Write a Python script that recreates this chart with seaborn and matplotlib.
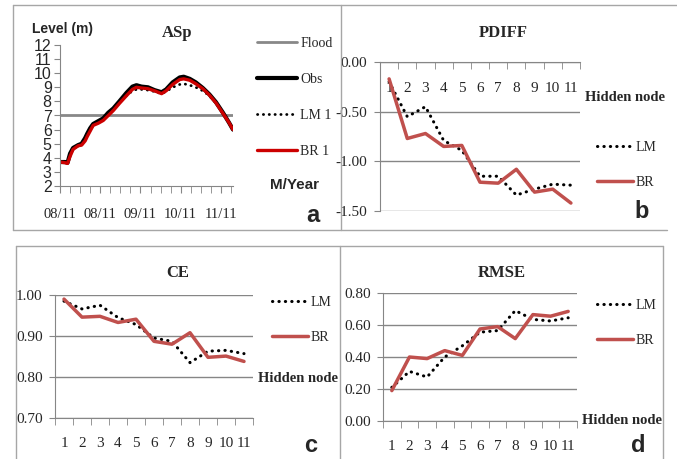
import pandas as pd
import seaborn as sns
import matplotlib.pyplot as plt
from matplotlib.lines import Line2D
from matplotlib.ticker import FixedLocator, FormatStrFormatter

# panel a: observed and simulated water level at ASp
week = [0, 0.5, 0.75, 1.0, 1.3, 1.8, 2.15, 2.5, 2.7, 3.0, 3.3, 3.8, 4.3, 4.8,
        5.3, 5.9, 6.6, 7.2, 7.6, 8.1, 8.75, 9.4, 10.1, 10.55, 11.2, 11.9,
        12.3, 12.9, 13.5, 14.2, 14.85, 15.5, 16.2, 16.8, 17.2]
obs = [3.7, 3.7, 3.65, 4.3, 4.7, 4.9, 5.0, 5.4, 5.7, 6.1, 6.4, 6.6, 6.8, 7.2,
       7.5, 8.0, 8.6, 9.05, 9.15, 9.05, 9.0, 8.8, 8.65, 8.85, 9.35, 9.7,
       9.75, 9.6, 9.35, 8.95, 8.5, 7.95, 7.2, 6.5, 6.0]
lm1 = [3.7, 3.7, 3.65, 4.3, 4.65, 4.9, 5.0, 5.35, 5.6, 6.0, 6.35, 6.55, 6.75,
       7.1, 7.4, 7.9, 8.4, 8.75, 8.85, 8.85, 8.8, 8.7, 8.55, 8.7, 9.0, 9.2,
       9.25, 9.15, 9.0, 8.75, 8.4, 7.9, 7.15, 6.5, 6.0]
br1 = [3.7, 3.65, 3.6, 4.1, 4.6, 4.85, 4.9, 5.2, 5.5, 5.9, 6.3, 6.45, 6.65,
       7.0, 7.35, 7.85, 8.4, 8.85, 9.0, 8.95, 8.9, 8.75, 8.55, 8.75, 9.2,
       9.55, 9.6, 9.5, 9.25, 8.9, 8.45, 7.9, 7.15, 6.5, 6.0]
flood_level = 7.0
month_labels = ["08/11", "08/11", "09/11", "10/11", "11/11"]

# panels b-d: performance against number of hidden nodes
nodes = list(range(1, 12))
pdiff_lm = [-0.2, -0.55, -0.45, -0.79, -0.89, -1.15, -1.15, -1.34, -1.28, -1.23, -1.24]
pdiff_br = [-0.17, -0.77, -0.72, -0.85, -0.84, -1.21, -1.22, -1.08, -1.31, -1.28, -1.42]
ce_lm = [0.985, 0.966, 0.975, 0.945, 0.928, 0.895, 0.887, 0.835, 0.863, 0.865, 0.857]
ce_br = [0.99, 0.946, 0.948, 0.933, 0.941, 0.887, 0.880, 0.908, 0.848, 0.851, 0.838]
rmse_lm = [0.21, 0.31, 0.275, 0.40, 0.47, 0.555, 0.565, 0.69, 0.635, 0.625, 0.645]
rmse_br = [0.19, 0.40, 0.39, 0.44, 0.41, 0.575, 0.59, 0.515, 0.665, 0.655, 0.685]

W, H = 677, 459
SERIF = ["Liberation Serif", "DejaVu Serif"]
SANS = ["Liberation Sans Narrow", "Liberation Sans", "DejaVu Sans"]
RED = "#c0504d"
GRID = "#868686"
FRAME = "#a6a6a6"
DOTS = (0, (0.1, 2.0))

sns.set_style("white")
plt.rcParams["axes.unicode_minus"] = False

fig = plt.figure(figsize=(W / 100, H / 100), dpi=100)


def fx(px):
    return px / W


def fy(py):
    return 1 - py / H


def box(left, top, right, bottom):
    return [fx(left), fy(bottom), fx(right - left), fy(top) - fy(bottom)]


def fline(xs, ys):
    fig.add_artist(Line2D([fx(x) for x in xs], [fy(y) for y in ys],
                          color=FRAME, lw=1, transform=fig.transFigure))


# panel frames
fline([13, 677], [5, 5])
fline([13, 13], [5, 230])
fline([13, 667], [230, 230])
fline([341, 341], [5, 230])
fline([16, 663], [246, 246])
fline([16, 16], [246, 459])
fline([340, 340], [246, 459])
fline([663, 663], [246, 459])


def put_legend(ax, x, y, gap, spacing=1.55):
    h, l = ax.get_legend_handles_labels()
    ax.legend(h, l, loc="upper left", bbox_to_anchor=(fx(x), fy(y)),
              bbox_transform=fig.transFigure, frameon=False, borderpad=0,
              borderaxespad=0, handlelength=gap, handletextpad=0.2,
              labelspacing=spacing, prop={"family": SERIF, "size": 10})


# ---- panel a ----
ax = fig.add_axes(box(60, 45, 233, 186))
ax.axhline(flood_level, color="#888888", lw=2, label="Flood")
sns.lineplot(x=week, y=obs, ax=ax, color="black", lw=3, label="Obs")
sns.lineplot(x=week, y=lm1, ax=ax, color="black", lw=2, linestyle=DOTS,
             dash_capstyle="round", label="LM 1")
sns.lineplot(x=week, y=br1, ax=ax, color="#cc0000", lw=2.4, label="BR 1")
ax.set_xlim(0, 17.2)
ax.set_ylim(2, 12)
ax.set_yticks(range(2, 13))
ax.xaxis.set_major_locator(FixedLocator([0, 4, 8, 12, 16]))
ax.xaxis.set_minor_locator(FixedLocator(range(0, 18)))
ax.set_xticklabels(month_labels, family=SERIF, fontsize=10.5)
ax.set_yticklabels([str(v) for v in range(2, 13)], family=SANS, fontsize=11.5)
for s in ["top", "right"]:
    ax.spines[s].set_visible(False)
for s in ["left", "bottom"]:
    ax.spines[s].set_color(GRID)
ax.tick_params(axis="x", which="both", bottom=True, length=5, color=GRID,
               direction="out", pad=11)
ax.tick_params(axis="y", left=True, length=4, color=GRID, direction="out", pad=2)
ax.set_xlabel("")
put_legend(ax, 257, 37, 2.9, spacing=1.65)
fig.text(fx(32), fy(29), "Level (m)", family=SANS, weight="bold", fontsize=10,
         va="center", ha="left")
fig.text(fx(177), fy(33), "ASp", family=SERIF, weight="bold", fontsize=12,
         va="center", ha="center")
fig.text(fx(270), fy(185), "M/Year", family=SANS, weight="bold", fontsize=11,
         va="center", ha="left")
fig.text(fx(313), fy(216), "a", family=SANS, weight="bold", fontsize=17,
         va="center", ha="center")


def metric_panel(rect, lm, br, ylim, yticks, title, tpos, legend_pos,
                 hidden_pos, letter, lpos, axis_top=False):
    ax = fig.add_axes(box(*rect))
    sns.lineplot(x=nodes, y=lm, ax=ax, color="black", lw=2.2, linestyle=DOTS,
                 dash_capstyle="round", label="LM")
    sns.lineplot(x=nodes, y=br, ax=ax, color=RED, lw=2.5, label="BR")
    ax.set_xlim(0.5, 11.5)
    ax.set_ylim(*ylim)
    ax.set_yticks(yticks)
    ax.yaxis.set_major_formatter(FormatStrFormatter("%.2f"))
    for lab in ax.get_yticklabels():
        lab.set_family(SERIF)
        lab.set_fontsize(11)
    ax.xaxis.set_major_locator(FixedLocator(nodes))
    ax.xaxis.set_minor_locator(FixedLocator([n - 0.5 for n in nodes] + [11.5]))
    ax.set_xticklabels([str(n) for n in nodes], family=SERIF, fontsize=11)
    ax.grid(axis="y", color=GRID, lw=1)
    ax.grid(axis="x", visible=False)
    ax.spines["right"].set_visible(False)
    ax.spines["left"].set_color(GRID)
    if axis_top:
        ax.spines["bottom"].set_visible(False)
        ax.spines["top"].set_color(GRID)
        ax.tick_params(axis="x", which="major", bottom=False, top=False,
                       labelbottom=False, labeltop=True, pad=-27)
        ax.tick_params(axis="x", which="minor", bottom=False, top=True,
                       direction="in", length=5, color=GRID)
    else:
        ax.spines["top"].set_visible(False)
        ax.spines["bottom"].set_color(GRID)
        ax.tick_params(axis="x", which="major", bottom=False, pad=10)
        ax.tick_params(axis="x", which="minor", bottom=True,
                       direction="out", length=5, color=GRID)
    ax.tick_params(axis="y", left=True, length=4, color=GRID, direction="out", pad=5)
    ax.set_xlabel("")
    put_legend(ax, legend_pos[0], legend_pos[1], 2.6)
    fig.text(fx(tpos[0]), fy(tpos[1]), title, family=SERIF, weight="bold",
             fontsize=12, va="center", ha="center")
    fig.text(fx(hidden_pos[0]), fy(hidden_pos[1]), "Hidden node", family=SERIF,
             weight="bold", fontsize=10.5, va="center", ha="left")
    fig.text(fx(lpos[0]), fy(lpos[1]), letter, family=SANS, weight="bold",
             fontsize=17, va="center", ha="center")
    return ax


metric_panel((380, 62, 580, 211), pdiff_lm, pdiff_br, (-1.5, 0),
             [0, -0.5, -1.0, -1.5], "PDIFF", (503, 33), (597, 141),
             (585, 97), "b", (642, 211), axis_top=True)
metric_panel((55, 295, 253, 418), ce_lm, ce_br, (0.7, 1.0),
             [0.7, 0.8, 0.9, 1.0], "CE", (178, 273), (272, 296),
             (258, 378), "c", (311, 446))
metric_panel((383, 293, 577, 421), rmse_lm, rmse_br, (0, 0.8),
             [0, 0.2, 0.4, 0.6, 0.8], "RMSE", (502, 273), (597, 299),
             (582, 421), "d", (638, 445))

fig.savefig("out.png", dpi=100)
